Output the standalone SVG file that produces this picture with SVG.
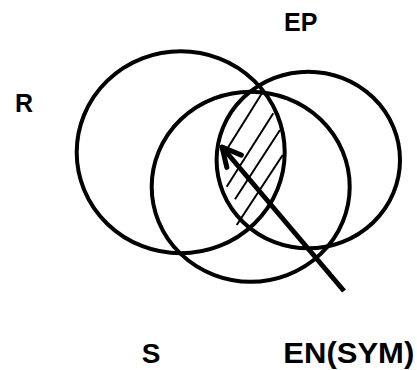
<svg xmlns="http://www.w3.org/2000/svg" width="417" height="370" viewBox="0 0 417 370">
<style>
.c{fill:none;stroke:#000;stroke-width:4}
.h{stroke:#000;stroke-width:2;fill:none}
.t{font-family:"Liberation Sans",Arial,sans-serif;font-weight:bold;fill:#000}
</style>
<defs>
<marker id="ah" viewBox="-22 -13 26 26" markerWidth="26" markerHeight="26" refX="0" refY="0" orient="auto" markerUnits="userSpaceOnUse">
<path d="M-18.7,-9.5 L0,0 L-18.7,9.5" fill="none" stroke="#000" stroke-width="5" stroke-linecap="round" stroke-linejoin="round"/>
</marker>
</defs>
<rect width="417" height="370" fill="#fff"/>
<g id="hatch">
<line class="h" x1="264" y1="90" x2="223.3" y2="155"/>
<line class="h" x1="273.3" y1="113.3" x2="226.7" y2="186.7"/>
<line class="h" x1="280" y1="130" x2="235" y2="199.3"/>
<line class="h" x1="282.7" y1="155" x2="236.7" y2="225"/>
</g>
<g id="R">
<ellipse class="c" cx="180.7" cy="152.3" rx="104" ry="101"/>
<text class="t" x="15" y="111.7" font-size="25">R</text>
</g>
<g id="EP">
<ellipse class="c" cx="308.3" cy="160" rx="91.7" ry="88.3"/>
<text class="t" x="284" y="30.7" font-size="25">EP</text>
</g>
<g id="S">
<ellipse class="c" cx="250.7" cy="186.7" rx="99" ry="95"/>
<text class="t" x="141.7" y="362.5" font-size="28">S</text>
</g>
<g id="EN">
<text class="t" x="283.3" y="362.5" font-size="29" textLength="131" lengthAdjust="spacingAndGlyphs">EN(SYM)</text>
</g>
<g id="connectors">
<line x1="344" y1="291" x2="222" y2="147" stroke="#000" stroke-width="5" marker-end="url(#ah)"/>
</g>
</svg>
